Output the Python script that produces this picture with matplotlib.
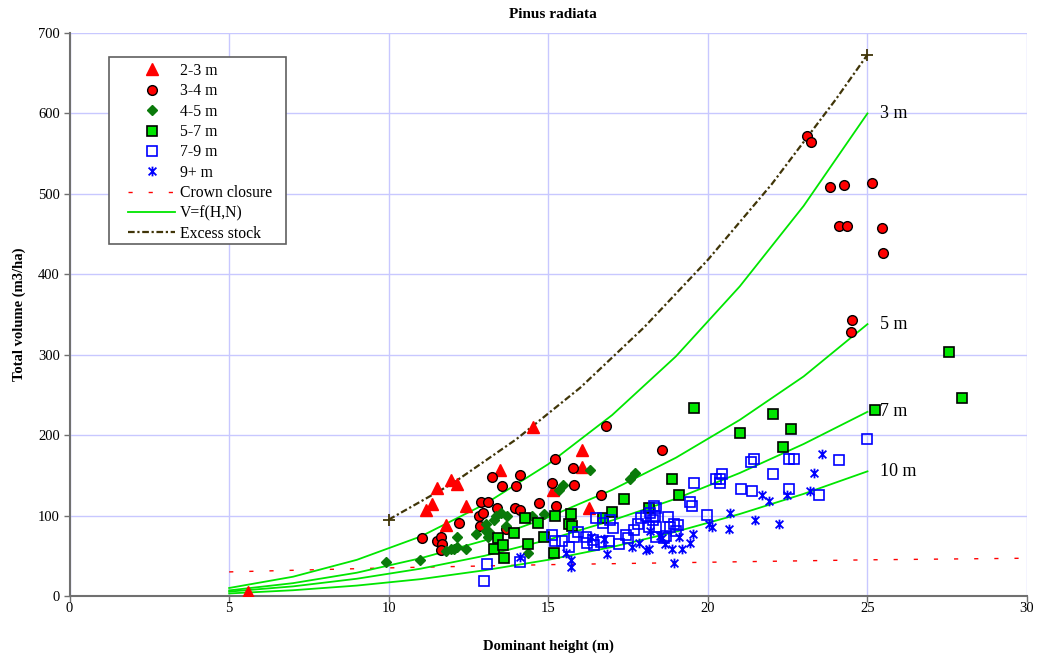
import matplotlib

matplotlib.use("Agg")
import matplotlib.pyplot as plt
from matplotlib.patches import Rectangle
from matplotlib.path import Path

# --- data --------------------------------------------------------------
# 2-3 m
h_23 = [5.6, 11.16, 11.36, 11.51, 11.79, 11.96, 12.15, 12.42, 13.48, 14.52, 15.14, 16.04, 16.04, 16.29]
v_23 = [5, 107, 115, 134, 88, 144, 139, 112, 157, 210, 132, 181, 161, 109]

# 3-4 m
h_34 = [11.05, 11.5, 11.65, 11.68, 11.65, 12.2, 12.82, 12.87, 12.88, 12.95, 13.11, 13.22, 13.38,
        13.56, 13.66, 13.95, 14.0, 14.1, 14.12, 14.72, 15.1, 15.22, 15.23, 15.77, 15.8, 16.64,
        16.8, 18.57, 23.1, 23.22, 23.84, 24.28, 25.15, 24.1, 24.35, 25.46, 25.49, 24.5, 24.47]
v_34 = [72, 68, 74, 65, 57, 91, 99, 87, 117, 103, 117, 148, 109,
        137, 83, 110, 137, 150, 107, 116, 140, 170, 112, 159, 138, 126,
        212, 181, 572, 564, 508, 511, 513, 460, 460, 457, 427, 343, 328]

# 4-5 m
h_45 = [9.9, 10.97, 11.8, 11.95, 12.05, 12.15, 12.15, 12.43, 12.72, 13.05, 13.06, 13.11, 13.13,
        13.3, 13.37, 13.53, 13.69, 13.66, 14.36, 14.5, 14.88, 15.33, 15.46, 16.32, 17.57, 17.73]
v_45 = [42, 45, 56, 58, 59, 61, 74, 59, 77, 90, 81, 74, 80,
        95, 99, 103, 99, 87, 54, 99, 102, 132, 138, 157, 145, 153]

# 5-7 m
h_57 = [13.3, 13.42, 13.59, 13.62, 13.92, 14.26, 14.36, 14.69, 14.85, 15.17, 15.2, 15.65, 15.72,
        15.74, 16.71, 17.0, 17.37, 18.15, 18.87, 19.11, 19.55, 21.01, 22.03, 22.35, 22.59, 25.24,
        27.56, 27.95]
v_57 = [59, 72, 64, 47, 78, 97, 65, 91, 73, 54, 99, 90, 102,
        87, 97, 105, 121, 109, 146, 126, 234, 203, 226, 185, 208, 231,
        303, 246]

# 7-9 m
h_79 = [13.0, 13.08, 14.12, 15.12, 15.2, 15.44, 15.65, 15.82, 15.93, 16.17, 16.21, 16.4, 16.43,
        16.5, 16.66, 16.71, 16.89, 16.94, 17.04, 17.23, 17.44, 17.49, 17.67, 17.81, 17.91, 18.07,
        18.17, 18.2, 18.28, 18.31, 18.33, 18.38, 18.38, 18.38, 18.64, 18.69, 18.74, 18.8, 18.95,
        19.0, 19.06, 19.45, 19.51, 19.55, 19.98, 20.24, 20.38, 20.38, 20.45, 21.04, 21.36, 21.39,
        21.43, 22.03, 22.53, 22.53, 22.69, 23.47, 24.1, 25.0]
v_79 = [19, 40, 42, 76, 69, 69, 61, 74, 79, 74, 66, 70, 63,
        97, 67, 91, 68, 95, 85, 65, 76, 72, 82, 89, 97, 99,
        86, 103, 94, 112, 99, 109, 86, 74, 72, 75, 98, 86, 90,
        81, 88, 117, 112, 141, 101, 145, 145, 141, 152, 133, 167, 130,
        170, 152, 170, 133, 170, 126, 169, 195]

# 9+ m
h_9 = [14.12, 15.56, 15.72, 15.7, 16.33, 16.75, 16.85, 17.63, 17.83, 18.07, 18.15, 18.2, 18.49,
       18.57, 18.66, 18.89, 18.95, 19.11, 19.19, 19.45, 19.52, 20.02, 20.13, 20.65, 20.68, 21.48,
       21.7, 21.91, 22.22, 22.47, 23.2, 23.31, 23.58]
v_9 = [49, 53, 45, 36, 74, 71, 52, 61, 66, 57, 59, 81, 75,
       72, 65, 59, 41, 74, 59, 66, 77, 90, 86, 83, 103, 94,
       126, 118, 89, 126, 131, 153, 177]

# V=f(H,N) curves for 3, 5, 7 and 10 m spacing
curve_h = [5, 7, 9, 11, 13, 15, 17, 19, 21, 23, 25]
v_3m = [10, 24, 45, 74, 114, 164, 225, 298, 385, 485, 600]
v_5m = [7, 16, 29, 47, 69, 98, 132, 172, 219, 273, 338]
v_7m = [5.5, 12, 21.5, 34, 50, 70, 94, 121, 153, 189, 229]
v_10m = [3.2, 7.2, 13, 21, 32, 45, 61, 80, 102, 127, 155]
curve_labels = ["3 m", "5 m", "7 m", "10 m"]

# crown closure
cc_h = [5, 10, 15, 20, 25, 30]
cc_v = [30, 35, 39, 42, 45, 47]

# excess stock
ex_h = [10, 12, 14, 16, 18, 20, 22, 24, 25]
ex_v = [95, 140, 195, 259, 334, 418, 512, 617, 673]

SERIF = "Liberation Serif"
GRID = "#c8c8ff"
LIME = "#00e600"
OLIVE = "#403508"


def star_marker():
    # Excel style "star": an X with a vertical bar through it
    verts = [(-1, -1), (1, 1), (-1, 1), (1, -1), (0, -1.25), (0, 1.25)]
    codes = [Path.MOVETO, Path.LINETO] * 3
    return Path(verts, codes)


def main():
    plt.rcParams["font.family"] = SERIF
    fig = plt.figure(figsize=(10.37, 6.57), dpi=100)
    ax = fig.add_axes([0.0671, 0.0928, 0.9233, 0.857])

    ax.set_xlim(0, 30)
    ax.set_ylim(0, 700)
    ax.set_xticks(range(0, 31, 5))
    ax.set_yticks(range(0, 701, 100))
    ax.grid(True, color=GRID, lw=1.0)
    ax.set_axisbelow(True)
    for side in ("top", "right"):
        ax.spines[side].set_visible(False)
    for side in ("left", "bottom"):
        ax.spines[side].set_color("#707070")
        ax.spines[side].set_linewidth(1.5)
    ax.tick_params(direction="out", length=4, width=1, color="#707070", labelsize=10.5)
    ax.tick_params(axis="x", pad=0.5)
    ax.tick_params(axis="y", pad=3)

    # lines first so the markers sit on top
    ax.plot(cc_h, cc_v, color="red", lw=1.0, ls=(0, (3, 11.5)), label="Crown closure", zorder=2)
    for i, vals in enumerate([v_3m, v_5m, v_7m, v_10m]):
        ax.plot(curve_h, vals, color=LIME, lw=1.3, zorder=2,
                label="V=f(H,N)" if i == 0 else None)
    ax.plot(ex_h, ex_v, color=OLIVE, lw=1.6, ls=(0, (3, 1.2, 1, 1.2)),
            label="Excess stock", zorder=2)
    ax.plot([ex_h[0], ex_h[-1]], [ex_v[0], ex_v[-1]], ls="none", marker="+",
            ms=8, mew=1.3, color=OLIVE, zorder=2)

    ax.plot(h_23, v_23, ls="none", marker="^", ms=8.5, color="red", mec="red", label="2-3 m", zorder=3)
    ax.plot(h_34, v_34, ls="none", marker="o", ms=7, color="red", mec="black", mew=1.0,
            label="3-4 m", zorder=3)
    ax.plot(h_45, v_45, ls="none", marker="D", ms=5.5, color="#0a7a0a", mec="#0a7a0a",
            label="4-5 m", zorder=3)
    ax.plot(h_57, v_57, ls="none", marker="s", ms=6.5, color=LIME, mec="black", mew=1.2,
            label="5-7 m", zorder=3)
    ax.plot(h_79, v_79, ls="none", marker="s", ms=7.3, mfc="none", mec="blue", mew=1.2,
            label="7-9 m", zorder=3)
    ax.plot(h_9, v_9, ls="none", marker=star_marker(), ms=7, mfc="none", mec="blue", mew=1.3,
            label="9+ m", zorder=3)

    for label, vals in zip(curve_labels, [v_3m, v_5m, v_7m, v_10m]):
        ax.text(curve_h[-1] + 0.4, vals[-1], label, fontsize=13, va="center", ha="left")

    # legend: frame drawn by hand so the padding can match the original
    box = Rectangle((0.0412, 0.6252), 0.1848, 0.3322, transform=ax.transAxes,
                    facecolor="white", edgecolor="#606060", lw=1.2, zorder=4)
    ax.add_patch(box)
    handles, labels = ax.get_legend_handles_labels()
    order = ["2-3 m", "3-4 m", "4-5 m", "5-7 m", "7-9 m", "9+ m",
             "Crown closure", "V=f(H,N)", "Excess stock"]
    lookup = dict(zip(labels, handles))
    leg = ax.legend([lookup[k] for k in order], order, loc="upper left",
                    bbox_to_anchor=(0.061, 0.947), fontsize=11.3, frameon=False,
                    handlelength=3.0, handletextpad=0.32, labelspacing=0.28,
                    borderpad=0, borderaxespad=0)
    leg.set_zorder(5)

    ax.set_xlabel("Dominant height (m)", fontsize=10.5, fontweight="bold")
    ax.set_ylabel("Total volume (m3/ha)", fontsize=10.5, fontweight="bold")
    ax.xaxis.set_label_coords(0.5, -0.078)
    ax.yaxis.set_label_coords(-0.046, 0.5)
    fig.text(553 / 1037, 1 - 14 / 657, "Pinus radiata", fontsize=11, fontweight="bold",
             ha="center", va="center")

    fig.savefig("out.png", dpi=100)
    plt.close(fig)


if __name__ == "__main__":
    main()
